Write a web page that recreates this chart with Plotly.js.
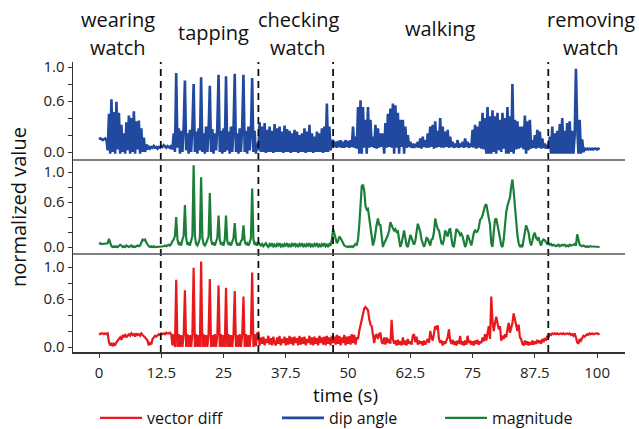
<!DOCTYPE html>
<html>
<head>
<meta charset="utf-8">
<script src="https://cdn.plot.ly/plotly-3.0.1.min.js"></script>
<style>html,body{margin:0;padding:0;background:#fff}#chart{width:639px;height:429px}</style>
</head>
<body>
<div id="chart"></div>
<script>
// sampling interval of all three series (seconds)
const SAMPLE_STEP = 0.25;

// dip angle (blue, top panel), one row per second (4 samples)
const dipAngle = [
0.15,0.16,0.15,0.14, 0.15,0.16,0.14,0.02, 0.45,-0.02,0.62,0.00, 0.47,-0.02,0.59,0.03,
0.46,-0.02,0.32,0.00, 0.22,-0.02,0.35,0.02, 0.43,-0.02,0.40,0.00, 0.48,-0.02,0.36,0.03,
0.37,-0.02,0.28,0.00, 0.17,0.00,0.09,0.03, 0.06,0.04,0.06,0.05, 0.07,0.05,0.06,0.04,
0.06,0.05,0.07,0.06, 0.08,0.06,0.05,0.07, 0.06,0.05,0.08,0.03, 0.22,0.00,0.93,0.05,
0.28,-0.02,0.25,0.00, 0.30,0.84,0.02,0.22, -0.02,0.26,0.00,0.30, 0.80,0.00,0.24,-0.02,
0.28,0.02,0.88,0.00, 0.22,-0.02,0.30,0.00, 0.25,0.78,0.00,0.27, -0.02,0.22,0.02,0.30,
0.91,0.00,0.25,-0.02, 0.28,0.00,0.89,0.02, 0.24,-0.02,0.30,0.00, 0.26,0.92,0.00,0.22,
-0.02,0.28,0.00,0.30, 0.91,0.00,0.25,-0.02, 0.30,0.02,0.22,0.87, 0.00,0.25,-0.02,0.10,
0.02,0.35,0.00,0.30, 0.00,0.34,-0.01,0.26, 0.00,0.30,0.00,0.25, -0.01,0.33,0.00,0.28,
0.00,0.30,0.00,0.24, -0.01,0.31,0.00,0.27, 0.00,0.25,-0.01,0.22, 0.00,0.26,0.00,0.24,
-0.01,0.20,0.00,0.22, 0.00,0.28,-0.01,0.24, 0.00,0.32,0.00,0.22, -0.01,0.18,0.00,0.24,
0.00,0.22,0.00,0.28, -0.01,0.30,0.00,0.57, 0.00,0.30,0.02,0.12, 0.14,0.06,0.12,0.05,
0.13,0.06,0.14,0.05, 0.12,0.05,0.14,0.06, 0.13,0.05,0.14,0.06, 0.30,0.05,0.18,0.04,
0.53,-0.02,0.61,-0.02, 0.53,0.05,0.38,-0.02, 0.53,0.05,0.38,0.06, 0.18,0.05,0.32,0.04,
0.28,0.05,0.22,0.06, 0.22,-0.02,0.34,0.05, 0.45,0.06,0.51,0.05, 0.57,-0.02,0.55,0.05,
0.46,-0.02,0.38,0.06, 0.38,-0.02,0.30,0.05, 0.20,0.06,0.12,0.05, 0.10,0.05,0.08,0.06,
0.12,0.05,0.16,0.04, 0.18,0.06,0.14,0.05, 0.22,0.05,0.30,0.06, 0.32,0.04,0.36,0.05,
0.25,0.06,0.40,0.05, 0.30,0.05,0.24,0.06, 0.26,0.05,0.18,0.06, 0.12,0.05,0.08,0.06,
0.14,0.05,0.10,0.06, 0.12,0.05,0.16,0.06, 0.12,0.05,0.10,0.06, 0.26,0.05,0.32,0.04,
0.30,0.05,0.36,0.04, 0.46,0.03,0.40,-0.02, 0.53,-0.02,0.42,-0.02, 0.49,0.00,0.42,-0.02,
0.46,0.02,0.38,0.00, 0.46,0.04,0.40,-0.02, 0.53,-0.02,0.42,0.00, 0.80,-0.02,0.38,0.03,
0.36,0.04,0.30,0.05, 0.30,0.03,0.43,-0.02, 0.36,0.02,0.38,0.04, 0.14,0.05,0.20,0.04,
0.26,0.05,0.24,0.04, 0.16,0.05,0.10,0.04, 0.08,0.04,0.18,-0.02, 0.30,-0.02,0.22,-0.02,
0.25,-0.02,0.33,-0.02, 0.40,-0.02,0.25,-0.02, 0.34,-0.02,0.36,-0.02, 0.25,-0.02,0.20,0.98,
0.30,-0.02,0.38,-0.02, 0.15,0.00,0.04,0.03, 0.04,0.03,0.04,0.03, 0.04,0.03,0.04,0.04,
0.03,0.04,0.03
];

// magnitude (green, middle panel)
const magnitude = [
0.04,0.05,0.04,0.04, 0.05,0.04,0.04,0.05, 0.11,0.06,0.01,0.00, 0.01,0.00,0.01,0.00,
0.01,0.03,0.02,0.00, 0.01,0.00,0.02,0.01, 0.00,0.01,0.02,0.00, 0.01,0.00,0.01,0.02,
0.01,0.02,0.06,0.10, 0.09,0.10,0.06,0.03, 0.01,0.00,0.01,0.00, 0.01,0.00,0.00,0.01,
0.00,0.01,0.00,0.01, 0.01,0.02,0.01,0.02, 0.03,0.02,0.04,0.08, 0.10,0.15,0.40,0.10,
0.03,0.05,0.02,0.10, 0.15,0.56,0.12,0.03, 0.05,0.02,0.08,0.15, 1.09,0.15,0.04,0.02,
0.06,0.12,0.93,0.12, 0.04,0.02,0.05,0.10, 0.14,0.72,0.10,0.03, 0.06,0.02,0.08,0.12,
0.42,0.10,0.03,0.06, 0.02,0.10,0.42,0.08, 0.03,0.05,0.02,0.08, 0.12,0.32,0.08,0.02,
0.05,0.02,0.08,0.10, 0.29,0.08,0.03,0.05, 0.02,0.06,0.12,0.78, 0.10,0.03,0.05,0.02,
0.06,0.04,0.02,0.04, 0.01,0.03,0.05,0.02, 0.00,0.04,0.02,0.05, 0.01,0.03,0.00,0.04,
0.02,0.05,0.01,0.03, 0.00,0.04,0.02,0.05, 0.01,0.03,0.00,0.04, 0.02,0.05,0.01,0.03,
0.00,0.04,0.02,0.05, 0.01,0.03,0.00,0.04, 0.02,0.05,0.01,0.03, 0.00,0.04,0.02,0.05,
0.01,0.03,0.00,0.04, 0.02,0.05,0.01,0.03, 0.00,0.04,0.02,0.10, 0.24,0.18,0.10,0.05,
0.08,0.14,0.12,0.08, 0.05,0.02,0.01,0.00, 0.00,0.01,0.00,0.01, 0.00,0.02,0.04,0.03,
0.10,0.29,0.60,0.81, 0.83,0.75,0.55,0.50, 0.51,0.40,0.29,0.15, 0.02,0.08,0.21,0.30,
0.38,0.30,0.29,0.15, 0.00,0.05,0.10,0.12, 0.16,0.22,0.33,0.28, 0.25,0.22,0.24,0.20,
0.21,0.10,0.00,0.05, 0.15,0.22,0.12,0.02, 0.00,0.08,0.16,0.12, 0.06,0.03,0.08,0.20,
0.31,0.26,0.20,0.10, 0.04,0.00,0.05,0.12, 0.11,0.05,0.02,0.10, 0.11,0.20,0.38,0.30,
0.24,0.22,0.12,0.05, 0.04,0.10,0.22,0.18, 0.14,0.22,0.25,0.12, 0.02,0.00,0.15,0.24,
0.22,0.20,0.16,0.18, 0.14,0.08,0.00,0.04, 0.16,0.12,0.05,0.02, 0.10,0.19,0.22,0.20,
0.21,0.26,0.36,0.38, 0.42,0.48,0.55,0.57, 0.46,0.40,0.30,0.05, 0.00,0.20,0.36,0.38,
0.30,0.24,0.12,0.02, 0.00,0.10,0.30,0.46, 0.55,0.60,0.66,0.80, 0.90,0.74,0.55,0.29,
0.16,0.05,0.00,0.02, 0.00,0.10,0.22,0.29, 0.24,0.19,0.08,0.02, 0.08,0.16,0.19,0.12,
0.10,0.13,0.06,0.02, 0.08,0.10,0.09,0.06, 0.04,0.05,0.03,0.04, 0.02,0.03,0.02,0.01,
0.02,0.03,0.01,0.02, 0.03,0.02,0.03,0.01, 0.02,0.01,0.03,0.02, 0.02,0.03,0.04,0.02,
0.17,0.08,0.03,0.02, 0.01,0.02,0.01,0.00, 0.01,0.00,0.01,0.01, 0.00,0.01,0.00,0.01,
0.00,0.01,0.00
];

// vector diff (red, bottom panel)
const vectorDiff = [
0.17,0.16,0.17,0.17, 0.16,0.17,0.16,0.17, 0.06,0.02,0.05,0.01, 0.04,0.02,0.06,0.08,
0.10,0.12,0.09,0.14, 0.13,0.16,0.12,0.15, 0.16,0.14,0.17,0.15, 0.16,0.13,0.17,0.15,
0.16,0.14,0.17,0.15, 0.14,0.12,0.10,0.08, 0.02,0.06,0.03,0.10, 0.12,0.14,0.13,0.15,
0.16,0.15,0.17,0.16, 0.17,0.16,0.18,0.17, 0.17,0.18,0.16,0.02, 0.16,0.00,0.84,0.00,
0.16,0.00,0.15,0.00, 0.15,0.71,0.00,0.16, 0.00,0.15,0.00,0.16, 0.99,0.00,0.16,0.00,
0.15,0.00,1.07,0.00, 0.16,0.00,0.15,0.00, 0.16,0.85,0.00,0.15, 0.00,0.16,0.00,0.15,
0.77,0.00,0.16,0.00, 0.15,0.00,0.74,0.00, 0.16,0.00,0.15,0.00, 0.16,0.70,0.00,0.15,
0.00,0.16,0.00,0.15, 0.63,0.00,0.16,0.00, 0.15,0.00,0.16,0.93, 0.00,0.16,0.01,0.17,
0.18,0.02,0.12,0.04, 0.13,0.02,0.10,0.05, 0.14,0.03,0.11,0.02, 0.13,0.05,0.02,0.12,
0.04,0.14,0.02,0.10, 0.05,0.13,0.02,0.11, 0.03,0.14,0.04,0.12, 0.02,0.13,0.05,0.11,
0.02,0.14,0.03,0.12, 0.04,0.13,0.02,0.10, 0.05,0.14,0.03,0.12, 0.02,0.13,0.04,0.11,
0.02,0.14,0.05,0.12, 0.03,0.13,0.02,0.14, 0.04,0.12,0.02,0.14, 0.05,0.13,0.03,0.15,
0.04,0.14,0.02,0.12, 0.05,0.15,0.02,0.13, 0.04,0.14,0.03,0.16, 0.05,0.15,0.03,0.12,
0.10,0.20,0.28,0.33, 0.44,0.48,0.50,0.47, 0.46,0.35,0.28,0.26, 0.12,0.05,0.14,0.16,
0.10,0.16,0.18,0.06, 0.04,0.12,0.03,0.12, 0.05,0.10,0.04,0.34, 0.10,0.04,0.08,0.02,
0.09,0.03,0.07,0.02, 0.12,0.03,0.08,0.02, 0.10,0.04,0.07,0.03, 0.14,0.16,0.06,0.13,
0.03,0.08,0.04,0.07, 0.02,0.08,0.03,0.06, 0.10,0.05,0.20,0.12, 0.08,0.17,0.26,0.22,
0.27,0.10,0.05,0.08, 0.02,0.07,0.04,0.08, 0.12,0.22,0.08,0.04, 0.09,0.03,0.07,0.02,
0.08,0.04,0.14,0.03, 0.07,0.02,0.08,0.03, 0.14,0.05,0.08,0.03, 0.07,0.02,0.08,0.04,
0.09,0.03,0.07,0.05, 0.12,0.07,0.16,0.08, 0.20,0.26,0.10,0.63, 0.32,0.20,0.30,0.38,
0.30,0.22,0.26,0.08, 0.14,0.10,0.16,0.12, 0.22,0.30,0.18,0.24, 0.30,0.42,0.35,0.30,
0.20,0.28,0.12,0.10, 0.04,0.02,0.08,0.03, 0.07,0.02,0.06,0.03, 0.08,0.03,0.07,0.04,
0.09,0.05,0.08,0.04, 0.10,0.06,0.11,0.08, 0.14,0.12,0.16,0.15, 0.17,0.16,0.17,0.16,
0.17,0.16,0.17,0.17, 0.16,0.17,0.16,0.17, 0.17,0.16,0.17,0.15, 0.16,0.14,0.17,0.12,
0.06,0.04,0.10,0.08, 0.12,0.14,0.13,0.15, 0.16,0.15,0.17,0.16, 0.17,0.16,0.17,0.17,
0.17,0.16,0.17
];

// activity phase boundaries (s) and labels
const phaseBoundaries = [12.4, 32.0, 47.0, 90.2];
const phaseLabels = ["wearing<br>watch", "tapping", "checking<br>watch", "walking", "removing<br>watch"];
const seriesNames = ["vector diff", "dip angle", "magnitude"];
const yTickVals = [0, 0.2, 0.4, 0.6, 0.8, 1.0];
const yTickText = ["0.0", "", "", "0.6", "", "1.0"];
const xTitle = "time (s)";
const yTitle = "normalized value";

const time = dipAngle.map((_, i) => i * SAMPLE_STEP);

const FONT = "Open Sans, Noto Sans, DejaVu Sans, sans-serif";
const colors = {red: "#e8191c", blue: "#2149a0", green: "#1b7f3a"};

const traces = [
  {x: time, y: vectorDiff, name: seriesNames[0], type: "scatter", mode: "lines",
   line: {color: colors.red, width: 2.2}, xaxis: "x", yaxis: "y", legend: "legend"},
  {x: time, y: dipAngle, name: seriesNames[1], type: "scatter", mode: "lines",
   line: {color: colors.blue, width: 2.6}, xaxis: "x", yaxis: "y3", legend: "legend2"},
  {x: time, y: magnitude, name: seriesNames[2], type: "scatter", mode: "lines",
   line: {color: colors.green, width: 2.2}, xaxis: "x", yaxis: "y2", legend: "legend3"}
];

// layout helpers (pixel -> paper)
const L = 73, R = 625, T = 62, B = 352;
const px = v => (v - L) / (R - L);
const py = v => (B - v) / (B - T);

const yBase = {
  showline: true, linecolor: "#333", linewidth: 1.5, ticks: "outside", ticklen: 4,
  tickcolor: "#333", tickmode: "array", tickvals: yTickVals, ticktext: yTickText,
  showgrid: false, zeroline: false, anchor: "x",
  tickfont: {family: FONT, size: 15, color: "#222"}
};

const shapes = phaseBoundaries.map(b => ({
  type: "line", xref: "x", yref: "paper", x0: b, x1: b, y0: 0, y1: 1,
  line: {color: "#111", width: 1.8, dash: "7px,5px"}, layer: "above"
}));
[py(160), py(254)].forEach(y => shapes.push({
  type: "line", xref: "paper", yref: "paper", x0: 0, x1: 1, y0: y, y1: y,
  line: {color: "#555", width: 1.5}, layer: "above"
}));

const labelPos = [[118, 19, 48], [213, 33], [298, 19, 48], [440, 28], [591, 19, 48]];
const annotations = [];
phaseLabels.forEach((lab, i) => {
  const parts = lab.split("<br>");
  const pos = labelPos[i];
  parts.forEach((p, k) => annotations.push({
    text: p, xref: "paper", yref: "paper", x: px(pos[0]), y: py(pos[1 + k]),
    xanchor: "center", yanchor: "middle", showarrow: false,
    font: {family: FONT, size: 20, color: "#111"}
  }));
});
annotations.push({
  text: yTitle, xref: "paper", yref: "paper", x: px(18), y: py(207),
  xanchor: "center", yanchor: "middle", showarrow: false, textangle: -90,
  font: {family: FONT, size: 20, color: "#111"}
});
annotations.push({
  text: xTitle, xref: "paper", yref: "paper", x: px(345), y: py(395),
  xanchor: "center", yanchor: "middle", showarrow: false,
  font: {family: FONT, size: 19, color: "#111"}
});

const legendBase = {orientation: "h", xanchor: "left", yanchor: "middle", y: py(418),
  font: {family: FONT, size: 16, color: "#111"}, bgcolor: "rgba(0,0,0,0)", itemwidth: 42};

const layout = {
  width: 639, height: 429,
  margin: {l: L, r: 639 - R, t: T, b: 429 - B, autoexpand: false},
  paper_bgcolor: "#fff", plot_bgcolor: "#fff",
  showlegend: true,
  xaxis: {
    range: [-5.22, 105.6], tickmode: "linear", tick0: 0, dtick: 12.5,
    showline: true, linecolor: "#333", linewidth: 2, ticks: "outside", ticklen: 4,
    tickcolor: "#333", showgrid: false, zeroline: false, ticklabelstandoff: 2,
    tickfont: {family: FONT, size: 15, color: "#222"}
  },
  yaxis: Object.assign({}, yBase, {domain: [0, py(254)], range: [-0.0625, 1.1625]}),
  yaxis2: Object.assign({}, yBase, {domain: [py(254), py(160)], range: [-0.093, 1.16]}),
  yaxis3: Object.assign({}, yBase, {domain: [py(160), 1], range: [-0.094, 1.059]}),
  legend: Object.assign({}, legendBase, {x: px(95)}),
  legend2: Object.assign({}, legendBase, {x: px(277)}),
  legend3: Object.assign({}, legendBase, {x: px(440)}),
  shapes: shapes,
  annotations: annotations
};

Plotly.newPlot("chart", traces, layout, {displayModeBar: false, staticPlot: true});
</script>
</body>
</html>
